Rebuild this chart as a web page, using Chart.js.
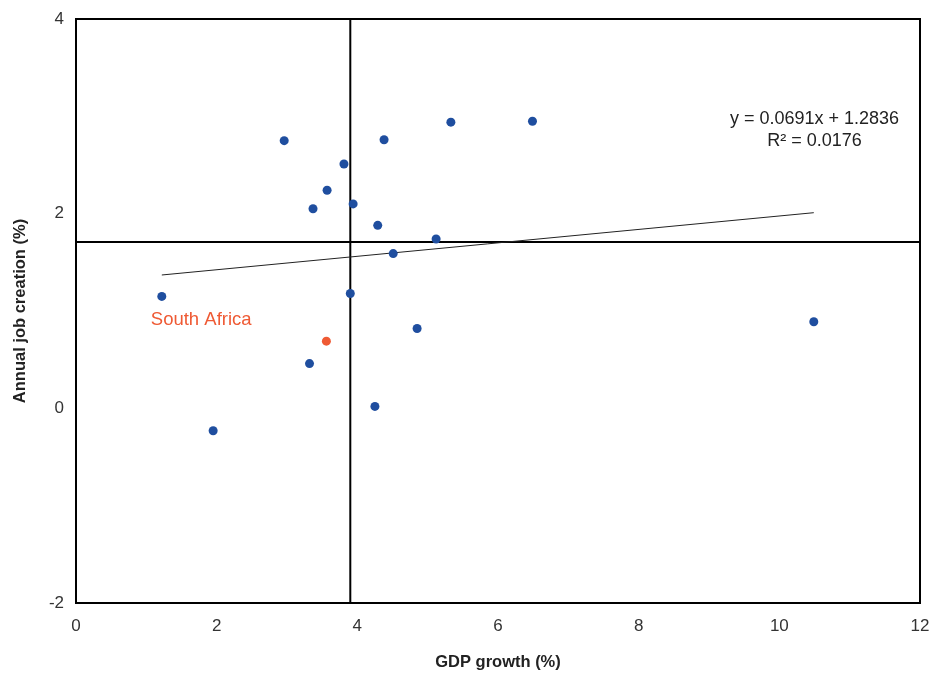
<!DOCTYPE html>
<html>
<head>
<meta charset="utf-8">
<script src="https://cdn.jsdelivr.net/npm/chart.js@4"></script>
<style>
  html, body { margin: 0; padding: 0; background: #fff; }
  #wrap { width: 938px; height: 675px; }
</style>
</head>
<body>
<div id="wrap"><canvas id="chart"></canvas></div>
<script>
// data: GDP growth (%) vs annual job creation (%)
const gdpGrowth = [1.22, 1.95, 2.96, 3.32, 3.37, 3.57, 3.81, 3.90, 3.94, 4.25, 4.29, 4.38, 4.51, 4.85, 5.12, 5.33, 6.49, 10.49];
const jobCreation = [1.15, -0.23, 2.75, 0.46, 2.05, 2.24, 2.51, 1.18, 2.10, 0.02, 1.88, 2.76, 1.59, 0.82, 1.74, 2.94, 2.95, 0.89];

// highlighted country
const highlightName = "South Africa";
const highlightGdp = [3.56];
const highlightJobs = [0.69];

// averages (the cross lines)
const avgGdp = 3.9;
const avgJobs = 1.71;

// linear trend shown in the chart
const trendX = [1.22, 10.49];
const trendY = [1.37, 2.01];
const trendText = ["y = 0.0691x + 1.2836", "R\u00b2 = 0.0176"];

// axes
const xTicks = [0, 2, 4, 6, 8, 10, 12];
const yTicks = [-2, 0, 2, 4];

const FONT = "'Liberation Sans', Arial, sans-serif";
const BLUE = "#1f4e9f";
const ORANGE = "#ef5a34";

const toPoints = (xs, ys) => xs.map((x, i) => ({ x: x, y: ys[i] }));

// keep label overflow from pushing the plot area in
const noOverflow = (s) => {
  s.paddingTop = 0;
  s.paddingBottom = 0;
  s.paddingLeft = 0;
  s.paddingRight = 0;
};

// box round the plot area + free text (equation and label)
const extras = {
  id: "extras",
  beforeDatasetsDraw(chart) {
    const { ctx, chartArea: a } = chart;
    ctx.save();
    ctx.strokeStyle = "#000";
    ctx.lineWidth = 2;
    ctx.strokeRect(a.left, a.top, a.right - a.left, a.bottom - a.top);
    ctx.restore();
  },
  afterDatasetsDraw(chart) {
    const { ctx, scales } = chart;
    ctx.save();
    ctx.textAlign = "center";
    ctx.textBaseline = "middle";
    // equation
    ctx.fillStyle = "#222";
    ctx.font = "18px " + FONT;
    const ex = scales.x.getPixelForValue(10.5);
    const ey = scales.y.getPixelForValue(2.97);
    ctx.fillText(trendText[0], ex, ey);
    ctx.fillText(trendText[1], ex, ey + 22);
    // label for highlighted country
    ctx.fillStyle = ORANGE;
    ctx.font = "18.5px " + FONT;
    ctx.fillText(highlightName, scales.x.getPixelForValue(1.78), scales.y.getPixelForValue(0.91));
    ctx.restore();
  }
};

const ctx = document.getElementById("chart").getContext("2d");
new Chart(ctx, {
  type: "scatter",
  data: {
    datasets: [
      {
        type: "line",
        data: [{ x: avgGdp, y: -2 }, { x: avgGdp, y: 4 }],
        borderColor: "#000",
        borderWidth: 2,
        pointRadius: 0,
        order: 3
      },
      {
        type: "line",
        data: [{ x: 0, y: avgJobs }, { x: 12, y: avgJobs }],
        borderColor: "#000",
        borderWidth: 2,
        pointRadius: 0,
        order: 3
      },
      {
        type: "line",
        data: toPoints(trendX, trendY),
        borderColor: "#222",
        borderWidth: 1,
        pointRadius: 0,
        order: 2
      },
      {
        data: toPoints(gdpGrowth, jobCreation),
        backgroundColor: BLUE,
        borderWidth: 0,
        pointRadius: 4.5,
        order: 1
      },
      {
        label: highlightName,
        data: toPoints(highlightGdp, highlightJobs),
        backgroundColor: ORANGE,
        borderWidth: 0,
        pointRadius: 4.5,
        order: 0
      }
    ]
  },
  options: {
    responsive: true,
    maintainAspectRatio: false,
    animation: false,
    layout: { padding: { left: 0, right: 18, top: 19, bottom: 0 } },
    plugins: {
      legend: { display: false },
      tooltip: { enabled: false }
    },
    scales: {
      x: {
        type: "linear",
        min: 0,
        max: 12,
        afterBuildTicks: (s) => { s.ticks = xTicks.map((v) => ({ value: v })); },
        afterFit: (s) => { s.height = 72; noOverflow(s); },
        grid: { display: false, drawTicks: false },
        border: { display: false },
        ticks: { color: "#333", padding: 13, font: { family: FONT, size: 17 } },
        title: {
          display: true,
          text: "GDP growth (%)",
          color: "#222",
          padding: { top: 0, bottom: 3 },
          font: { family: FONT, size: 16.5, weight: "bold" }
        }
      },
      y: {
        type: "linear",
        min: -2,
        max: 4,
        afterBuildTicks: (s) => { s.ticks = yTicks.map((v) => ({ value: v })); },
        afterFit: (s) => { s.width = 76; noOverflow(s); },
        grid: { display: false, drawTicks: false },
        border: { display: false },
        ticks: { color: "#333", padding: 12, font: { family: FONT, size: 17 } },
        title: {
          display: true,
          text: "Annual job creation (%)",
          color: "#222",
          padding: { top: 11, bottom: 0 },
          font: { family: FONT, size: 16.5, weight: "bold" }
        }
      }
    }
  },
  plugins: [extras]
});
</script>
</body>
</html>
